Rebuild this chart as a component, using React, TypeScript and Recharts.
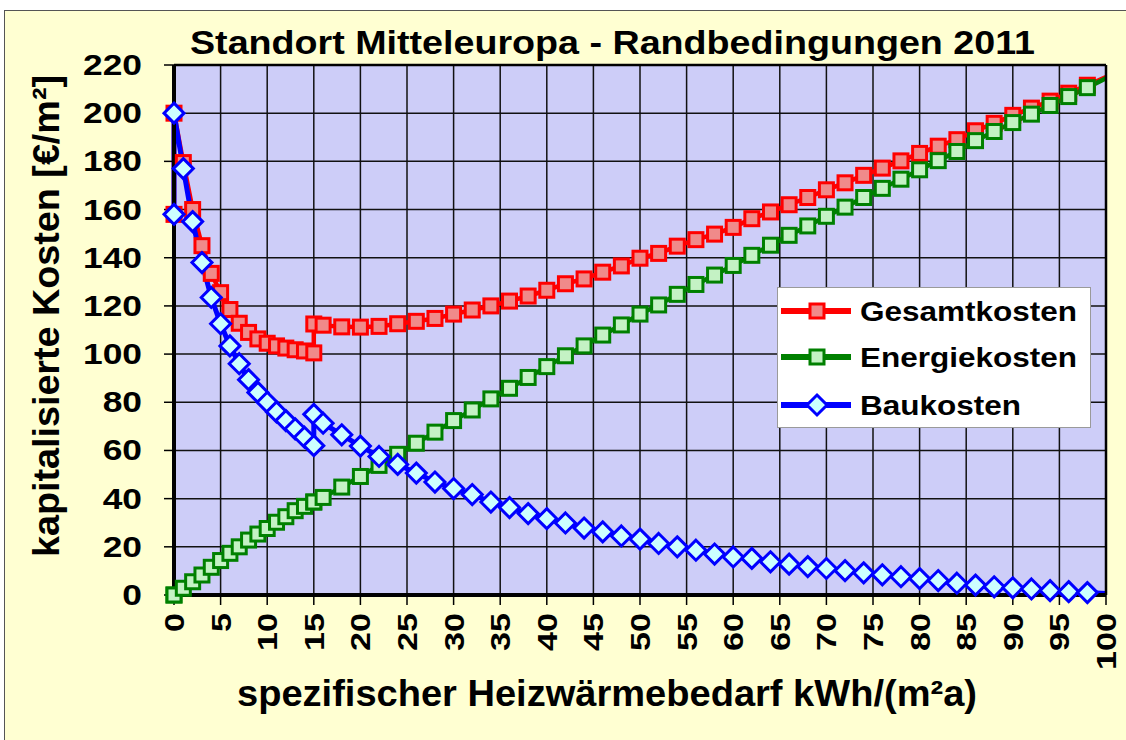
import React from 'react';
import { LineChart, Line, XAxis, YAxis, CartesianGrid, Legend } from 'recharts';

// spezifischer Heizwärmebedarf kWh/(m²a)
const xValues = [
  0, 0, 1, 2, 3, 4, 5, 6, 7, 8, 9, 10, 11, 12, 13, 14, 15,
  15, 16, 18, 20, 22, 24, 26, 28, 30, 32, 34, 36, 38, 40, 42, 44, 46, 48, 50,
  52, 54, 56, 58, 60, 62, 64, 66, 68, 70, 72, 74, 76, 78, 80, 82, 84, 86, 88,
  90, 92, 94, 96, 98, 100,
];

const gesamtkosten = [
  158, 200, 179.5, 160, 145, 133.5, 125.5, 118.5, 112.8, 109, 106.3, 104.5, 103.4, 102.5, 101.8, 101.3, 100.5,
  112.5, 112, 111.3, 111.2, 111.5, 112.6, 113.6, 114.8, 116.6, 118.3, 120, 122, 124.1, 126.5, 129.2, 131.2, 134, 136.6, 139.8,
  141.8, 144.8, 147.5, 149.8, 152.6, 156.2, 159, 162, 165, 168.2, 171.1, 174.2, 177.2, 180.2, 183.3, 186.3, 189, 192.7, 195.8,
  199.1, 202.1, 205, 208.3, 211.6, 215,
];

const energiekosten = [
  0, 0, 2.8, 5.5, 8.3, 11.5, 14.3, 17.3, 20, 22.8, 25.3, 27.6, 30.2, 32.5, 35, 36.8, 38.6,
  38.6, 40.5, 44.8, 49.2, 53.8, 58.4, 63, 67.6, 72.4, 76.8, 81.4, 85.8, 90.3, 94.8, 99.3, 103.4, 107.9, 112.1, 116.6,
  120.4, 124.8, 128.9, 132.8, 136.8, 141, 145.2, 149.3, 153.2, 157.2, 161, 165, 168.8, 172.6, 176.5, 180.3, 184.1, 188.6, 192.4,
  196.1, 199.6, 203.2, 206.9, 210.6, 214.5,
];

const baukosten = [
  158, 200, 177, 155, 138, 123.5, 112.6, 103.4, 96, 89.4, 84.1, 80, 76, 72.4, 69, 65.5, 62,
  75, 71.3, 66.5, 61.8, 57.5, 54.2, 50.6, 46.9, 44.2, 41.7, 38.6, 36.3, 33.8, 31.7, 29.9, 27.8, 26.2, 24.5, 23.2,
  21.4, 20, 18.6, 17, 15.8, 15.2, 13.8, 12.8, 11.8, 11, 10.1, 9.2, 8.4, 7.6, 6.8, 6, 4.9, 4.1, 3.4,
  3, 2.5, 1.8, 1.4, 1, 0.6,
];

const xTicks = [0, 5, 10, 15, 20, 25, 30, 35, 40, 45, 50, 55, 60, 65, 70, 75, 80, 85, 90, 95, 100];
const yTicks = [0, 20, 40, 60, 80, 100, 120, 140, 160, 180, 200, 220];
const seriesNames = ['Gesamtkosten', 'Energiekosten', 'Baukosten'];
const chartTitle = 'Standort Mitteleuropa - Randbedingungen 2011';
const xTitle = 'spezifischer Heizwärmebedarf kWh/(m²a)';
const yTitle = 'kapitalisierte Kosten [€/m²]';

const data = xValues.map((x, i) => ({
  x,
  gesamt: gesamtkosten[i],
  energie: energiekosten[i],
  bau: baukosten[i],
}));

const FONT = '"Liberation Sans", Arial, Helvetica, sans-serif';
const LAST = xValues.length - 1;

const RED = '#FF0000';
const RED_FILL = '#F08A8A';
const GREEN = '#008000';
const GREEN_FILL = '#C4F2C4';
const BLUE = '#0000FF';
const BLUE_FILL = '#CCFFFF';

const squareDot = (fill: string, stroke: string, prefix: string) => (props: any) => {
  const { cx, cy, index } = props;
  if (index === LAST || cx == null || cy == null) return <g key={`${prefix}${index}`} />;
  return (
    <rect key={`${prefix}${index}`} x={cx - 7} y={cy - 7} width={14} height={14}
      fill={fill} stroke={stroke} strokeWidth={3} />
  );
};

const diamondDot = (props: any) => {
  const { cx, cy, index } = props;
  if (index === LAST || cx == null || cy == null) return <g key={`b${index}`} />;
  return (
    <path key={`b${index}`} d={`M${cx},${cy - 10} L${cx + 10},${cy} L${cx},${cy + 10} L${cx - 10},${cy} Z`}
      fill={BLUE_FILL} stroke={BLUE} strokeWidth={3} />
  );
};

const YTick = (props: any) => {
  const { x, y, payload } = props;
  return (
    <g transform={`translate(${x},${y})`}>
      <text transform="scale(1.22,1)" x={0} y={0} dy={10} textAnchor="end"
        fontFamily={FONT} fontWeight="bold" fontSize={29} fill="#000">{payload.value}</text>
    </g>
  );
};

const XTick = (props: any) => {
  const { x, y, payload } = props;
  return (
    <g transform={`translate(${x},${y}) rotate(-90)`}>
      <text transform="scale(1.22,1)" x={0} y={0} dy={10} textAnchor="end"
        fontFamily={FONT} fontWeight="bold" fontSize={28} fill="#000">{payload.value}</text>
    </g>
  );
};

const legendRows = [
  { name: seriesNames[0], color: RED, kind: 'sq', fill: RED_FILL, len: 217 },
  { name: seriesNames[1], color: GREEN, kind: 'sq', fill: GREEN_FILL, len: 217 },
  { name: seriesNames[2], color: BLUE, kind: 'dia', fill: BLUE_FILL, len: 161 },
];

const renderLegend = () => (
  <svg width={314} height={141} style={{ display: 'block' }}>
    <rect x={0.5} y={0.5} width={313} height={140} fill="#FFFFFF" stroke="#9A9A9A" strokeWidth={1} />
    {legendRows.map((r, i) => {
      const cy = [24, 70, 118][i];
      return (
        <g key={r.name}>
          <line x1={4} x2={74} y1={cy} y2={cy} stroke={r.color} strokeWidth={6} />
          {r.kind === 'sq' ? (
            <rect x={33} y={cy - 7} width={14} height={14} fill={r.fill} stroke={r.color} strokeWidth={3} />
          ) : (
            <path d={`M40,${cy - 10} L50,${cy} L40,${cy + 10} L30,${cy} Z`} fill={r.fill} stroke={r.color} strokeWidth={3} />
          )}
          <text x={83} y={cy + 10} fontFamily={FONT} fontWeight="bold" fontSize={28} fill="#000"
            textLength={r.len} lengthAdjust="spacingAndGlyphs">{r.name}</text>
        </g>
      );
    })}
  </svg>
);

export default function App() {
  return (
    <div style={{ position: 'absolute', left: 0, top: 0, width: 1126, height: 740, background: '#FFFFFF', overflow: 'hidden' }}>
      <div style={{ position: 'absolute', left: 4, top: 10, width: 1140, height: 760, background: '#FFFFD2', border: '1.5px solid #555' }} />
      <div style={{ position: 'absolute', left: 0, top: 0 }}>
        <LineChart width={1126} height={740} data={data}
          margin={{ top: 65, right: 20, bottom: 85, left: 114 }}>
          <CartesianGrid fill="#CDCDF8" fillOpacity={1} stroke="#111" strokeWidth={1.5} strokeDasharray="0" />
          <XAxis type="number" dataKey="x" domain={[0, 100]} ticks={xTicks} interval={0}
            height={60} tickSize={10} tickMargin={8} tick={<XTick />}
            axisLine={{ stroke: '#000', strokeWidth: 4 }} tickLine={{ stroke: '#000', strokeWidth: 1.5 }} />
          <YAxis type="number" domain={[0, 220]} ticks={yTicks} interval={0} width={60}
            tickSize={10} tickMargin={22} tick={<YTick />}
            axisLine={{ stroke: '#000', strokeWidth: 4 }} tickLine={{ stroke: '#000', strokeWidth: 1.5 }} />
          <Line type="linear" dataKey="gesamt" name={seriesNames[0]} stroke={RED} strokeWidth={4.5}
            dot={squareDot(RED_FILL, RED, 'r')} activeDot={false} isAnimationActive={false} />
          <Line type="linear" dataKey="energie" name={seriesNames[1]} stroke={GREEN} strokeWidth={4.5}
            dot={squareDot(GREEN_FILL, GREEN, 'g')} activeDot={false} isAnimationActive={false} />
          <Line type="linear" dataKey="bau" name={seriesNames[2]} stroke={BLUE} strokeWidth={5}
            dot={diamondDot} activeDot={false} isAnimationActive={false} />
          <Legend layout="horizontal" verticalAlign="middle" align="center" content={renderLegend}
            wrapperStyle={{ position: 'absolute', left: 777, top: 287, width: 314, height: 141 }} />
        </LineChart>
      </div>
      <svg width={1126} height={740} style={{ position: 'absolute', left: 0, top: 0, pointerEvents: 'none' }}>
        <line x1={174} y1={65} x2={1106} y2={65} stroke="#000" strokeWidth={2.5} />
        <line x1={1106} y1={65} x2={1106} y2={595} stroke="#000" strokeWidth={2.5} />
        <text x={190} y={54} fontFamily={FONT} fontWeight="bold" fontSize={34} fill="#000"
          textLength={845} lengthAdjust="spacingAndGlyphs">{chartTitle}</text>
        <text x={237} y={706} fontFamily={FONT} fontWeight="bold" fontSize={36} fill="#000"
          textLength={740} lengthAdjust="spacingAndGlyphs">{xTitle}</text>
        <text transform="translate(59,557) rotate(-90)" x={0} y={0} fontFamily={FONT} fontWeight="bold" fontSize={37} fill="#000"
          textLength={482} lengthAdjust="spacingAndGlyphs">{yTitle}</text>
      </svg>
    </div>
  );
}
